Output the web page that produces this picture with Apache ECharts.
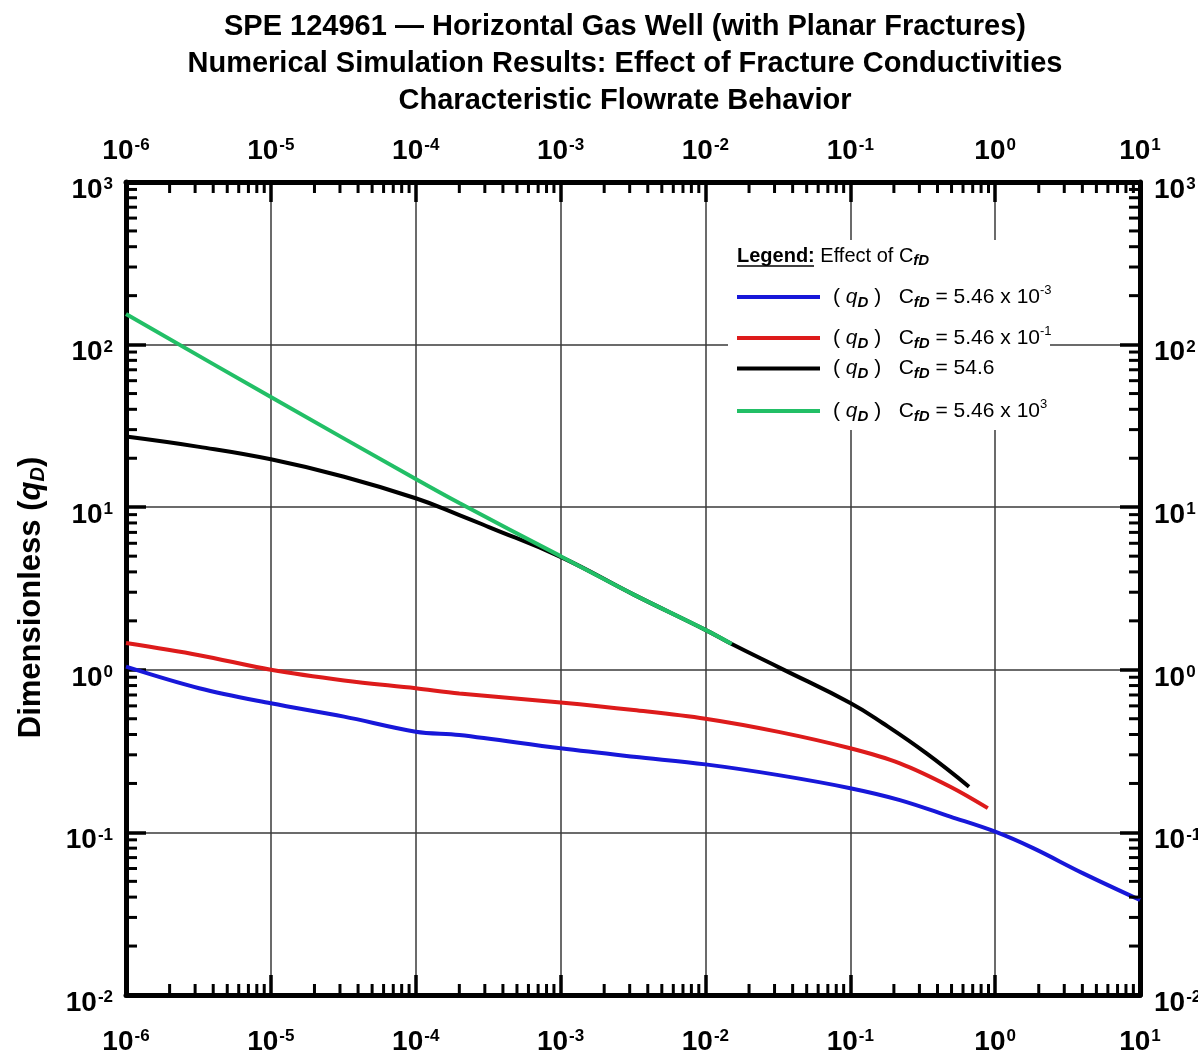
<!DOCTYPE html>
<html>
<head>
<meta charset="utf-8">
<script src="https://cdn.jsdelivr.net/npm/echarts@6/dist/echarts.min.js"></script>
<style>
html,body{margin:0;padding:0;background:#fff;overflow:hidden;}
#chart{width:1198px;height:1059px;}
</style>
</head>
<body>
<div id="chart"></div>
<script>
// ---------------- DATA ----------------
const titleLines = [
  'SPE 124961 \u2014 Horizontal Gas Well (with Planar Fractures)',
  'Numerical Simulation Results: Effect of Fracture Conductivities',
  'Characteristic Flowrate Behavior'
];
const yAxisTitle = 'Dimensionless';
const xTicks = [1e-6, 1e-5, 1e-4, 1e-3, 1e-2, 1e-1, 1e0, 1e1];
const yTicks = [1e-2, 1e-1, 1e0, 1e1, 1e2, 1e3];
const minorMultipliers = [2, 3, 4, 5, 6, 7, 8, 9];

const seriesNames = ['CfD = 5.46 x 10^-3', 'CfD = 5.46 x 10^-1', 'CfD = 54.6', 'CfD = 5.46 x 10^3'];

// CfD = 5.46e-3 (blue)
const blueX = [1e-6, 3.2e-6, 1e-5, 3.2e-5, 1e-4, 2e-4, 1e-3, 3.2e-3, 1e-2, 3.2e-2, 0.1, 0.22, 0.49, 1.0, 1.83, 4.05, 10];
const blueY = [1.045, 0.77, 0.622, 0.515, 0.416, 0.397, 0.329, 0.292, 0.262, 0.225, 0.187, 0.158, 0.125, 0.101, 0.080, 0.056, 0.0384];
// CfD = 5.46e-1 (red)
const redX = [1e-6, 3.2e-6, 1e-5, 3.2e-5, 1e-4, 2e-4, 1e-3, 3.2e-3, 1e-2, 3.2e-2, 0.1, 0.22, 0.49, 0.89];
const redY = [1.46, 1.23, 1.0, 0.86, 0.77, 0.716, 0.63, 0.566, 0.50, 0.415, 0.329, 0.266, 0.191, 0.141];
// CfD = 54.6 (black)
const blackX = [1e-6, 3.2e-6, 1e-5, 3.2e-5, 1e-4, 2e-4, 3.2e-4, 1e-3, 3.2e-3, 1e-2, 1.52e-2, 3.4e-2, 0.1, 0.168, 0.336, 0.66];
const blackY = [27.2, 23.5, 19.7, 15.4, 11.35, 8.95, 7.55, 4.95, 2.9, 1.76, 1.44, 1.01, 0.625, 0.469, 0.306, 0.191];
// CfD = 5.46e3 (green)
const greenX = [1e-6, 1e-5, 1e-4, 2e-4, 1e-3, 3.2e-3, 1e-2, 1.52e-2];
const greenY = [154, 47.6, 14.9, 10.6, 5.0, 2.9, 1.76, 1.44];

// ---------------- STYLES ----------------
const NARROW = "'Liberation Sans Narrow', 'Arial Narrow', 'Liberation Sans', sans-serif";
const SANS = "'Liberation Sans', Arial, sans-serif";
const COLORS = ['#1717d9', '#dd1b1b', '#000000', '#22bf66'];

function pairs(xs, ys) { return xs.map((x, i) => [x, ys[i]]); }

function powLabel(v) {
  const e = Math.round(Math.log10(v));
  return '{b|10}{s|' + e + '}';
}
function powRich(padTop) {
  return {
    b: { fontSize: 28, fontWeight: 'bold', fontFamily: SANS, color: '#000', padding: [padTop, 0, 0, 0], verticalAlign: 'bottom', lineHeight: 28 },
    s: { fontSize: 17, fontWeight: 'bold', fontFamily: SANS, color: '#000', verticalAlign: 'top', lineHeight: 17, padding: [0, 0, 0, 1] }
  };
}

// minor tick positions
const xMinor = [];
xTicks.slice(0, -1).forEach(d => minorMultipliers.forEach(m => xMinor.push([d * m, 1])));
const yMinor = [];
yTicks.slice(0, -1).forEach(d => minorMultipliers.forEach(m => yMinor.push([1, d * m])));

const legendRich = {
  g: { width: 8 },
  n: { fontSize: 21, fontFamily: NARROW, color: '#000', lineHeight: 26 },
  q: { fontSize: 21, fontFamily: NARROW, fontStyle: 'italic', color: '#000', lineHeight: 26 },
  d: { fontSize: 15, fontFamily: NARROW, fontStyle: 'italic', fontWeight: 'bold', color: '#000', lineHeight: 12, verticalAlign: 'bottom' },
  s: { fontSize: 13, fontFamily: NARROW, color: '#000', lineHeight: 12, verticalAlign: 'top' }
};
const legendText = {};
legendText[seriesNames[0]] = '{g|}{n|( }{q|q}{d|D}{n| )   C}{d|fD}{n| = 5.46 x 10}{s|-3}';
legendText[seriesNames[1]] = '{g|}{n|( }{q|q}{d|D}{n| )   C}{d|fD}{n| = 5.46 x 10}{s|-1}';
legendText[seriesNames[2]] = '{g|}{n|( }{q|q}{d|D}{n| )   C}{d|fD}{n| = 54.6}';
legendText[seriesNames[3]] = '{g|}{n|( }{q|q}{d|D}{n| )   C}{d|fD}{n| = 5.46 x 10}{s|3}';
const legendCenters = [297, 338, 371, 411];

const dom = document.getElementById('chart');
const chart = echarts.init(dom, null, { renderer: 'canvas', width: 1198, height: 1059 });

const axisCommon = {
  type: 'log', logBase: 10,
  axisLine: { show: true, onZero: false, lineStyle: { color: '#000', width: 5 } },
  axisTick: { show: true, inside: true, length: 20, lineStyle: { color: '#000', width: 3.5 } },
  minorTick: { show: false },
  splitLine: { show: false }
};

const option = {
  backgroundColor: '#fff',
  animation: false,
  title: {
    text: titleLines.join('\n'),
    left: 620, top: 3, textAlign: 'center',
    textStyle: { fontFamily: NARROW, fontWeight: 'bold', fontSize: 29, lineHeight: 37, color: '#000' }
  },
  grid: { left: 126, top: 182, right: 58, bottom: 64, containLabel: false, outerBoundsMode: 'none' },
  xAxis: [
    Object.assign({}, axisCommon, {
      position: 'bottom', min: 1e-6, max: 10,
      axisLabel: { formatter: powLabel, rich: powRich(9), margin: 33 },
      splitLine: { show: true, lineStyle: { color: '#3a3a3a', width: 1.5 } }
    }),
    Object.assign({}, axisCommon, {
      position: 'top', min: 1e-6, max: 10,
      axisLabel: { formatter: powLabel, rich: powRich(9), margin: 17 }
    })
  ],
  yAxis: [
    Object.assign({}, axisCommon, {
      position: 'left', min: 0.01, max: 1000,
      axisLabel: { formatter: powLabel, rich: powRich(9), margin: 13, padding: [16, 0, 0, 0] },
      splitLine: { show: true, lineStyle: { color: '#3a3a3a', width: 1.5 } },
      name: '{t|' + yAxisTitle + ' (}{q|q}{d|D}{t|)}',
      nameLocation: 'middle', nameGap: 78, nameRotate: 90,
      nameTextStyle: {
        padding: [0, 18, 0, 0],
        rich: {
          t: { fontSize: 31, fontWeight: 'bold', fontFamily: SANS, color: '#000', lineHeight: 34 },
          q: { fontSize: 31, fontWeight: 'bold', fontStyle: 'italic', fontFamily: SANS, color: '#000', lineHeight: 34 },
          d: { fontSize: 20, fontWeight: 'bold', fontStyle: 'italic', fontFamily: SANS, color: '#000', lineHeight: 20, verticalAlign: 'bottom' }
        }
      }
    }),
    Object.assign({}, axisCommon, {
      position: 'right', min: 0.01, max: 1000,
      axisLabel: { formatter: powLabel, rich: powRich(9), margin: 14, padding: [16, 0, 0, 0] }
    })
  ],
  legend: seriesNames.map((nm, i) => ({
    data: [nm], left: 737, top: legendCenters[i] - 13, orient: 'vertical',
    padding: 0, itemWidth: 83, itemHeight: 4, icon: 'rect', selectedMode: false, z: 20,
    formatter: n => legendText[n],
    textStyle: { rich: legendRich }
  })),
  graphic: [
    { type: 'rect', z: 10, shape: { x: 728, y: 240, width: 322, height: 190 }, style: { fill: '#fff' } },
    {
      type: 'text', z: 11, x: 737, y: 256,
      style: {
        text: '{u|Legend:}{r| Effect of C}{d|fD}',
        verticalAlign: 'middle',
        rich: {
          u: { fontSize: 20, fontWeight: 'bold', fontFamily: NARROW, fill: '#000', lineHeight: 24 },
          r: { fontSize: 20, fontFamily: NARROW, fill: '#000', lineHeight: 24 },
          d: { fontSize: 15, fontWeight: 'bold', fontStyle: 'italic', fontFamily: NARROW, fill: '#000', lineHeight: 12, verticalAlign: 'bottom' }
        }
      }
    },
    { type: 'line', z: 11, shape: { x1: 737, y1: 266, x2: 814, y2: 266 }, style: { stroke: '#000', lineWidth: 1.5 } }
  ],
  series: [
    { name: seriesNames[0], type: 'line', data: pairs(blueX, blueY), showSymbol: false, smooth: 0.35, lineStyle: { color: COLORS[0], width: 4 }, itemStyle: { color: COLORS[0] }, z: 3 },
    { name: seriesNames[1], type: 'line', data: pairs(redX, redY), showSymbol: false, smooth: 0.35, lineStyle: { color: COLORS[1], width: 4 }, itemStyle: { color: COLORS[1] }, z: 3 },
    { name: seriesNames[2], type: 'line', data: pairs(blackX, blackY), showSymbol: false, smooth: 0.45, lineStyle: { color: COLORS[2], width: 4 }, itemStyle: { color: COLORS[2] }, z: 3 },
    { name: seriesNames[3], type: 'line', data: pairs(greenX, greenY), showSymbol: false, smooth: 0.35, lineStyle: { color: COLORS[3], width: 4 }, itemStyle: { color: COLORS[3] }, z: 4 },
    {
      type: 'custom', clip: false, silent: true, z: 5, xAxisIndex: 0, yAxisIndex: 0,
      data: xMinor,
      renderItem: function (params, api) {
        const v = api.value(0);
        const b = api.coord([v, 0.01]);
        const t = api.coord([v, 1000]);
        const st = { stroke: '#000', lineWidth: 3 };
        return { type: 'group', children: [
          { type: 'line', shape: { x1: b[0], y1: b[1], x2: b[0], y2: b[1] - 11 }, style: st },
          { type: 'line', shape: { x1: t[0], y1: t[1], x2: t[0], y2: t[1] + 11 }, style: st }
        ] };
      }
    },
    {
      type: 'custom', clip: false, silent: true, z: 5, xAxisIndex: 0, yAxisIndex: 0,
      data: yMinor,
      renderItem: function (params, api) {
        const v = api.value(1);
        const l = api.coord([1e-6, v]);
        const r = api.coord([10, v]);
        const st = { stroke: '#000', lineWidth: 3 };
        return { type: 'group', children: [
          { type: 'line', shape: { x1: l[0], y1: l[1], x2: l[0] + 11, y2: l[1] }, style: st },
          { type: 'line', shape: { x1: r[0], y1: r[1], x2: r[0] - 11, y2: r[1] }, style: st }
        ] };
      }
    }
  ]
};
chart.setOption(option);
</script>
</body>
</html>
